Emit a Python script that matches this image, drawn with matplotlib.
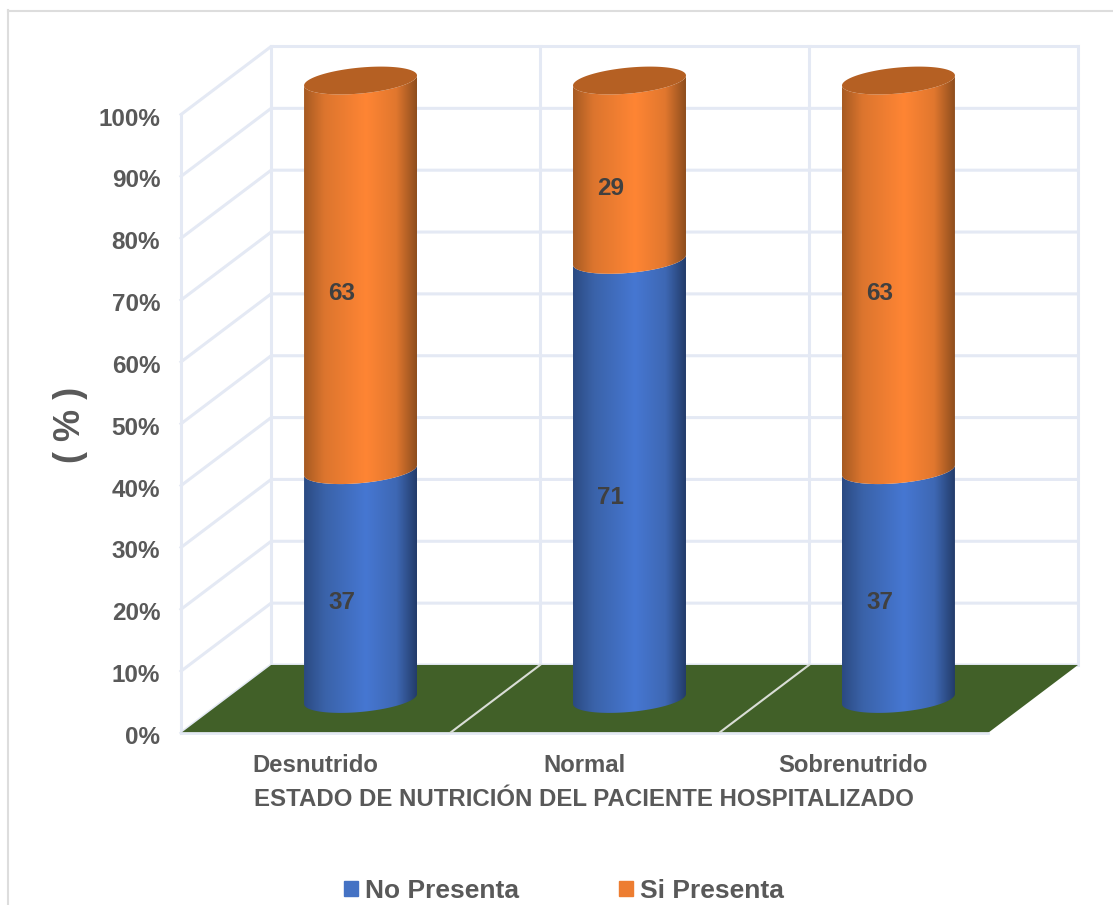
import numpy as np
import matplotlib.pyplot as plt
from matplotlib.colors import LinearSegmentedColormap
from matplotlib.lines import Line2D
from matplotlib.patches import Patch, Polygon
from matplotlib.transforms import ScaledTranslation

plt.rcParams['font.family'] = ['Liberation Sans', 'DejaVu Sans']
plt.rcParams['font.weight'] = 'bold'
plt.rcParams['axes.labelweight'] = 'bold'

# Data
categories = ['Desnutrido', 'Normal', 'Sobrenutrido']
no_presenta = [37, 71, 37]
si_presenta = [63, 29, 63]
y_ticks = [0, 10, 20, 30, 40, 50, 60, 70, 80, 90, 100]

# Colours
TEXT = '#595959'
GRID = '#E4E9F4'
FLOOR = '#416028'
BLUE = '#4472C4'
ORANGE = '#ED7D31'
CAP = '#B56023'
blue_shade = LinearSegmentedColormap.from_list(
    'blue_shade', [(0, '#2B4A82'), (0.18, '#3A62A8'), (0.55, '#4677D2'), (0.82, '#3E68B4'), (1, '#233C6A')])
orange_shade = LinearSegmentedColormap.from_list(
    'orange_shade', [(0, '#A65A22'), (0.18, '#DC752E'), (0.55, '#FF8534'), (0.82, '#E0772E'), (1, '#8E4E1E')])

# Fake 3D: the depth of the box in data units, and the cylinder shape
DEPTH_X = 0.335
DEPTH_Y = 11.0
RADIUS = 0.21
ELL_H = 2.1
TILT = 0.81

W, H = 1113, 905
fig = plt.figure(figsize=(W / 100, H / 100), dpi=100)
ax = fig.add_axes([181 / W, 1 - 733 / H, 897 / W, 686.5 / H])
ax.set_facecolor('none')
for s in ax.spines.values():
    s.set_visible(False)

# Outer chart frame
fig.add_artist(Line2D([8 / W, 8 / W], [0, 1 - 10 / H], color='#DDDDDD', lw=1.5))
fig.add_artist(Line2D([8 / W, 1], [1 - 11 / H, 1 - 11 / H], color='#DDDDDD', lw=1.5))

# Walls
for v in y_ticks:
    ax.plot([-0.5, -0.5 + DEPTH_X, 2.5 + DEPTH_X], [v, v + DEPTH_Y, v + DEPTH_Y],
            color=GRID, lw=2.2, zorder=1, solid_joinstyle='miter', clip_on=False)
ax.plot([-0.5, -0.5], [0, 100], color=GRID, lw=2.2, zorder=1, clip_on=False)
for i in range(4):
    ax.plot([i - 0.5 + DEPTH_X] * 2, [DEPTH_Y, 100 + DEPTH_Y], color=GRID, lw=2.2, zorder=1, clip_on=False)

# Floor
ax.add_patch(Polygon([(-0.5, 0), (2.5, 0), (2.5 + DEPTH_X, DEPTH_Y), (-0.5 + DEPTH_X, DEPTH_Y)],
                     closed=True, facecolor=FLOOR, edgecolor='none', zorder=2))
ax.plot([-0.5, 2.5], [0, 0], color=GRID, lw=2, zorder=2, clip_on=False)
for i in [1, 2]:
    ax.plot([i - 0.5, i - 0.5 + DEPTH_X], [0, DEPTH_Y], color='#D9DDD6', lw=1.5, zorder=3)


def arc_points(xc, level, front=True):
    # lower half (or whole) of the tilted ellipse at one height of the cylinder
    theta = np.linspace(np.pi, 2 * np.pi, 80) if front else np.linspace(0, 2 * np.pi, 160)
    return xc + RADIUS * np.cos(theta), level + ELL_H * np.sin(theta) + TILT * np.cos(theta)


def draw_segment(xc, low, high, cmap):
    x1, y1 = arc_points(xc, low)
    x2, y2 = arc_points(xc, high)
    outline = np.column_stack([np.r_[x1, x2[::-1]], np.r_[y1, y2[::-1]]])
    poly = Polygon(outline, closed=True, facecolor='none', edgecolor='none', transform=ax.transData)
    ax.add_patch(poly)
    grad = np.linspace(0, 1, 256).reshape(1, -1)
    im = ax.imshow(grad, cmap=cmap, aspect='auto', zorder=4, interpolation='bilinear',
                   extent=[xc - RADIUS, xc + RADIUS, low - ELL_H - 2, high + ELL_H + 2])
    im.set_clip_path(poly)


# Cylinders
for i, (a, b) in enumerate(zip(no_presenta, si_presenta)):
    xc = i + DEPTH_X / 2
    base = DEPTH_Y / 2
    draw_segment(xc, base, base + a, blue_shade)
    draw_segment(xc, base + a, base + a + b, orange_shade)
    xt, yt = arc_points(xc, base + a + b, front=False)
    ax.add_patch(Polygon(np.column_stack([xt, yt]), closed=True, facecolor=CAP, edgecolor='none', zorder=5))
    ax.text(i + 0.097, base + a / 2 - 2.9, str(a), ha='center', va='center',
            fontsize=17.5, color='#404040', zorder=6)
    ax.text(i + 0.097, base + a + b / 2 - 2.9, str(b), ha='center', va='center',
            fontsize=17.5, color='#404040', zorder=6)

ax.set_xlim(-0.5, 2.5 + DEPTH_X)
ax.set_ylim(0, 111)

ax.set_xticks(range(len(categories)))
ax.set_xticklabels(categories)
ax.set_yticks(y_ticks)
ax.set_yticklabels([f'{v}%' for v in y_ticks])
ax.tick_params(axis='x', length=0, pad=15, labelsize=17.2, labelcolor=TEXT)
ax.tick_params(axis='y', length=0, pad=15, labelsize=17.5, labelcolor=TEXT)
for lab in ax.get_yticklabels():
    lab.set_transform(lab.get_transform() + ScaledTranslation(0, -2 / 100, fig.dpi_scale_trans))

ax.set_xlabel('ESTADO DE NUTRICIÓN DEL PACIENTE HOSPITALIZADO', fontsize=17.3, color=TEXT, va='center')
ax.xaxis.set_label_coords(403 / 897, -66 / 686.5)
ax.set_ylabel('( % )', fontsize=26, color=TEXT, va='center')
ax.yaxis.set_label_coords(-111 / 897, 308 / 686.5)

handles = [Patch(color=BLUE, label='No Presenta'), Patch(color=ORANGE, label='Si Presenta')]
fig.legend(handles=handles, loc='center', bbox_to_anchor=(564 / W, 1 - 891 / H), ncol=2, frameon=False,
           fontsize=19, labelcolor=TEXT, handlelength=0.53, handleheight=0.53, handletextpad=0.27,
           columnspacing=3.8, borderpad=0, borderaxespad=0)

fig.savefig('out.png', dpi=100, facecolor='white')
